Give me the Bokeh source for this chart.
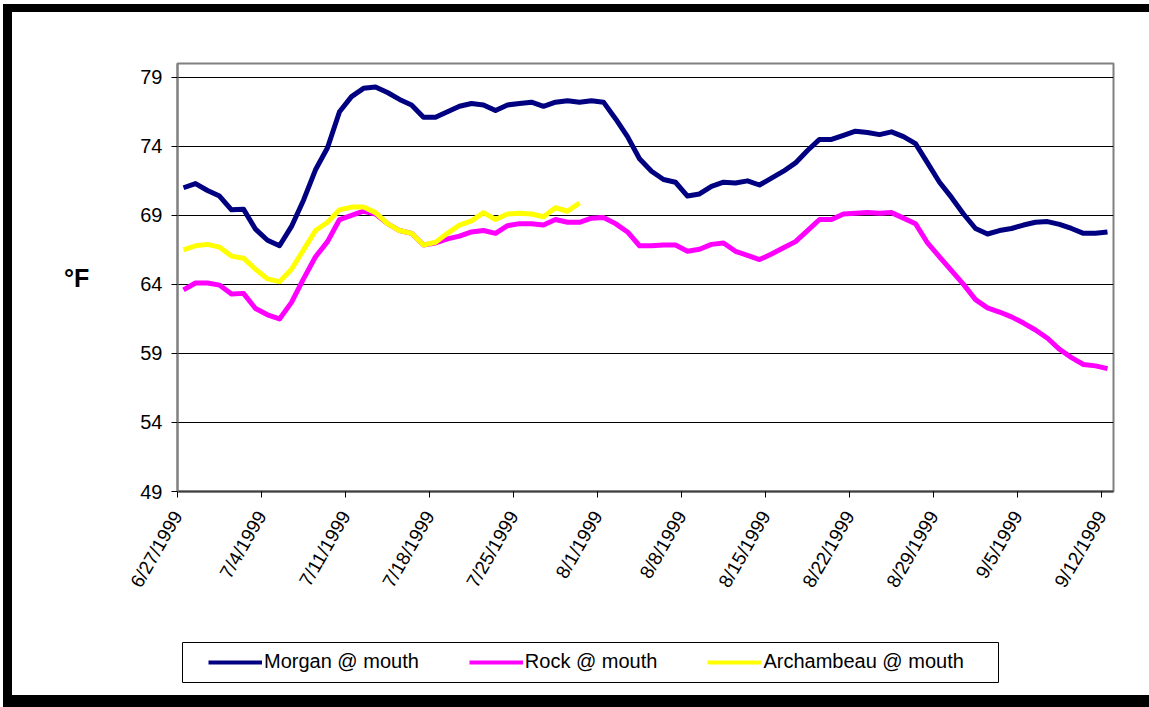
import numpy as np
from bokeh.plotting import figure
from bokeh.layouts import column
from bokeh.models import Range1d, FixedTicker, Legend, LegendItem
from bokeh.embed import file_html
from bokeh.resources import INLINE

# ---- data (daily, 6/27/1999 .. 9/12/1999) ----
tick_labels = ["6/27/1999", "7/4/1999", "7/11/1999", "7/18/1999", "7/25/1999", "8/1/1999",
               "8/8/1999", "8/15/1999", "8/22/1999", "8/29/1999", "9/5/1999", "9/12/1999"]
y_ticks = [49, 54, 59, 64, 69, 74, 79]

morgan = [71.0, 71.3, 70.8, 70.4, 69.4, 69.45, 68.0, 67.2, 66.8, 68.2,
          70.1, 72.3, 73.9, 76.5, 77.6, 78.2, 78.3, 77.9, 77.4, 77.0,
          76.1, 76.1, 76.5, 76.9, 77.1, 77.0, 76.6, 77.0, 77.1, 77.2,
          76.9, 77.2, 77.3, 77.2, 77.3, 77.2, 76.0, 74.7, 73.1, 72.2,
          71.6, 71.4, 70.4, 70.55, 71.1, 71.4, 71.35, 71.5, 71.2, 71.7,
          72.2, 72.8, 73.7, 74.5, 74.5, 74.8, 75.1, 75.0, 74.85, 75.05,
          74.7, 74.2, 72.8, 71.4, 70.3, 69.1, 68.05, 67.65, 67.9, 68.05,
          68.3, 68.5, 68.55, 68.35, 68.05, 67.7, 67.7, 67.8]

rock = [63.6, 64.1, 64.1, 63.95, 63.3, 63.35, 62.25, 61.8, 61.5, 62.7,
        64.4, 66.0, 67.1, 68.7, 69.0, 69.3, 69.1, 68.4, 67.9, 67.7,
        66.85, 67.0, 67.3, 67.5, 67.8, 67.9, 67.7, 68.25, 68.4, 68.4,
        68.3, 68.7, 68.5, 68.5, 68.8, 68.85, 68.4, 67.8, 66.8, 66.8,
        66.85, 66.85, 66.4, 66.55, 66.9, 67.0, 66.4, 66.1, 65.8, 66.2,
        66.65, 67.1, 67.9, 68.7, 68.7, 69.1, 69.15, 69.2, 69.15, 69.2,
        68.8, 68.4, 67.0, 66.0, 65.0, 64.0, 62.9, 62.3, 62.0, 61.65,
        61.2, 60.7, 60.1, 59.3, 58.7, 58.2, 58.1, 57.9]

archambeau = [66.5, 66.8, 66.9, 66.7, 66.05, 65.9, 65.1, 64.4, 64.2, 65.1,
              66.5, 67.9, 68.5, 69.4, 69.6, 69.6, 69.2, 68.4, 67.9, 67.7,
              66.85, 67.05, 67.7, 68.3, 68.6, 69.2, 68.7, 69.1, 69.15, 69.1,
              68.9, 69.55, 69.3, 69.9]

series_names = ["Morgan @ mouth", "Rock @ mouth", "Archambeau @ mouth"]
series_colors = ["#000080", "#FF00FF", "#FFFF00"]

# day offsets (points sit in the middle of each day)
x_morgan = np.arange(len(morgan)) + 0.5
x_rock = np.arange(len(rock)) + 0.5
x_arch = np.arange(len(archambeau)) + 0.5
n_days = len(morgan)

FONT = "Liberation Sans"
W = 1137
H1, H2 = 610, 73
FRAME_W = 936   # plot-area width in pixels (shared by both stacked figures)

# ---------------- main chart ----------------
p = figure(width=W, height=H1, output_backend="svg", toolbar_location=None,
           x_range=Range1d(0, n_days), y_range=Range1d(49, 80),
           min_border_left=165, min_border_right=W - 165 - FRAME_W, min_border_top=51,
           min_border_bottom=H1 - 479)
p.background_fill_color = "white"
p.border_fill_color = "white"
p.outline_line_color = "#808080"
p.outline_line_width = 2

for xs, ys, col in ((x_morgan, morgan, series_colors[0]),
                    (x_rock, rock, series_colors[1]),
                    (x_arch, archambeau, series_colors[2])):
    p.line(xs, ys, line_color=col, line_width=5, line_join="round")

p.xaxis.ticker = FixedTicker(ticks=[7 * i for i in range(len(tick_labels))])
p.xaxis.major_label_overrides = {7 * i: lab for i, lab in enumerate(tick_labels)}
p.xaxis.major_label_orientation = 1.05
p.xaxis.axis_line_color = "#404040"
p.xaxis.axis_line_width = 2
p.yaxis.ticker = FixedTicker(ticks=y_ticks)
p.yaxis.axis_line_color = "#808080"
p.yaxis.axis_line_width = 2
for ax in (p.xaxis, p.yaxis):
    ax.minor_tick_line_color = None
    ax.major_tick_in = 0
    ax.major_tick_out = 6
    ax.major_tick_line_color = "black"
    ax.major_label_text_font = FONT
    ax.major_label_text_color = "black"
p.yaxis.major_label_text_font_size = "20px"
p.yaxis.major_label_standoff = 9
p.xaxis.major_label_text_font_size = "19px"
p.xaxis.major_label_standoff = 15

p.yaxis.axis_label = "°F"
p.yaxis.axis_label_orientation = "horizontal"
p.yaxis.axis_label_text_font = FONT
p.yaxis.axis_label_text_font_size = "25px"
p.yaxis.axis_label_text_font_style = "bold"
p.yaxis.axis_label_text_color = "black"
p.yaxis.axis_label_standoff = 48

p.xgrid.visible = False
p.ygrid.ticker = FixedTicker(ticks=y_ticks)
p.ygrid.grid_line_color = "black"
p.ygrid.grid_line_width = 1

# ---------------- legend strip ----------------
# its plot area is aligned with the chart's plot area, so x is in pixels from that left edge
q = figure(width=W, height=H2, output_backend="svg", toolbar_location=None,
           x_range=Range1d(0, FRAME_W), y_range=Range1d(0, H2),
           x_axis_location=None, y_axis_location=None,
           min_border_left=165, min_border_right=W - 165 - FRAME_W,
           min_border_top=0, min_border_bottom=0)
q.outline_line_color = None
q.grid.visible = False
q.background_fill_color = "white"
q.border_fill_color = "white"
q.quad(left=[5], right=[821], bottom=[13], top=[53], fill_color="white",
       line_color="black", line_width=1)
# legend swatch renderers (their points lie outside the visible strip)
dummies = [q.line(x=[-50, -40], y=[-50, -50], line_color=c, line_width=4) for c in series_colors]
legend = Legend(items=[LegendItem(label=n, renderers=[r]) for n, r in zip(series_names, dummies)],
                orientation="horizontal", location=(31, 22),
                glyph_width=54, glyph_height=20, label_standoff=2, spacing=50,
                padding=0, margin=0, border_line_color=None, background_fill_alpha=0,
                label_text_font=FONT, label_text_font_size="20px", label_text_color="black")
q.add_layout(legend)

layout = column(p, q, spacing=0, margin=(12, 0, 0, 12),
                styles={"box-shadow": "-9px 0 0 0 black, 0 -8px 0 0 black, -9px -8px 0 0 black, "
                                      "0 12px 0 0 black, -9px 12px 0 0 black"})

open("out.html", "w").write(file_html(layout, INLINE))
